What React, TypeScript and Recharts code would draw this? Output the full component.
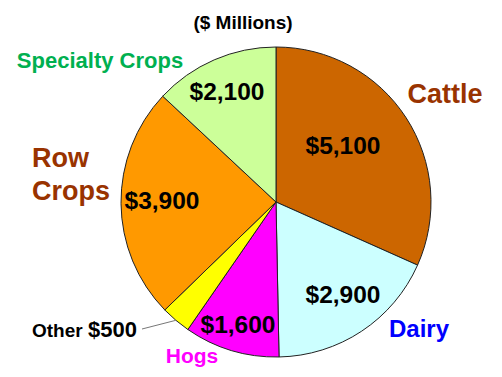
import { PieChart, Pie, Cell } from 'recharts'

const CATEGORIES = ['Cattle', 'Dairy', 'Hogs', 'Other', 'Row Crops', 'Specialty Crops']
const VALUES = [5100, 2900, 1600, 500, 3900, 2100]
const VALUE_LABELS = ['$5,100', '$2,900', '$1,600', '$500', '$3,900', '$2,100']

const SLICE_COLORS = ['#cc6600', '#ccffff', '#ff00ff', '#ffff00', '#ff9900', '#ccff99']
const NAME_COLORS = ['#993300', '#0000ff', '#ff00ff', '#000000', '#993300', '#00b050']

// label placement relative to the pie centre
const VALUE_POS = [[67, -48], [67, 101], [-38, 131], null, [-114, 7], [-49, -102]]
const NAME_POS: any[] = [
  { dx: 169, dy: -99, size: 27, anchor: 'middle' },
  { dx: 143, dy: 135, size: 24, anchor: 'middle' },
  { dx: -84, dy: 161, size: 21, anchor: 'middle' },
  { dx: -244, dy: 135, size: 19, anchor: 'start' },
  { dx: -244, dy: -35, size: 27, anchor: 'start' },
  { dx: -176, dy: -134, size: 22, anchor: 'middle' },
]

const FONT = 'Arial, "Liberation Sans", sans-serif'
const RAD = Math.PI / 180

const data = CATEGORIES.map((name, i) => ({ name, value: VALUES[i], label: VALUE_LABELS[i] }))

const renderLabel = (props: any) => {
  const { cx, cy, index, midAngle, outerRadius } = props
  const v = VALUE_POS[index]
  const n = NAME_POS[index]
  const parts: any[] = []
  if (v) {
    parts.push(
      <text key="v" x={cx + v[0]} y={cy + v[1]} textAnchor="middle" fontSize={24.5} fontWeight="bold" fill="#000" fontFamily={FONT}>
        {VALUE_LABELS[index]}
      </text>
    )
  }
  if (CATEGORIES[index] === 'Row Crops') {
    parts.push(
      <text key="n" x={cx + n.dx} y={cy + n.dy} textAnchor="start" fontSize={n.size} fontWeight="bold" fill={NAME_COLORS[index]} fontFamily={FONT}>
        <tspan x={cx + n.dx}>Row</tspan>
        <tspan x={cx + n.dx} dy={33}>Crops</tspan>
      </text>
    )
  } else if (CATEGORIES[index] === 'Other') {
    const ex = cx + outerRadius * Math.cos(-midAngle * RAD)
    const ey = cy + outerRadius * Math.sin(-midAngle * RAD)
    parts.push(
      <line key="l" x1={cx - 134} y1={cy + 127} x2={ex} y2={ey} stroke="#777" strokeWidth={1} />
    )
    parts.push(
      <text key="n" x={cx + n.dx} y={cy + n.dy} textAnchor="start" fontWeight="bold" fill={NAME_COLORS[index]} fontFamily={FONT}>
        <tspan fontSize={19}>Other </tspan>
        <tspan fontSize={22}>{VALUE_LABELS[index]}</tspan>
      </text>
    )
  } else {
    parts.push(
      <text key="n" x={cx + n.dx} y={cy + n.dy} textAnchor={n.anchor} fontSize={n.size} fontWeight="bold" fill={NAME_COLORS[index]} fontFamily={FONT}>
        {CATEGORIES[index]}
      </text>
    )
  }
  return <g>{parts}</g>
}

export default function App() {
  return (
    <div style={{ position: 'relative', width: 502, height: 377, background: '#fff' }}>
      <style>{'body{margin:0}'}</style>
      <div
        style={{
          position: 'absolute', left: 143, top: 13, width: 200, textAlign: 'center',
          fontFamily: FONT, fontWeight: 'bold', fontSize: 19, lineHeight: '19px', color: '#000',
        }}
      >
        ($ Millions)
      </div>
      <PieChart width={502} height={377} margin={{ top: 0, right: 0, bottom: 0, left: 0 }}>
        <Pie
          data={data}
          dataKey="value"
          nameKey="name"
          cx={276}
          cy={202}
          outerRadius={155}
          startAngle={90}
          endAngle={-270}
          stroke="#222"
          strokeWidth={1}
          label={renderLabel}
          labelLine={false}
          isAnimationActive={false}
        >
          {data.map((_, i) => (
            <Cell key={i} fill={SLICE_COLORS[i]} />
          ))}
        </Pie>
      </PieChart>
    </div>
  )
}
